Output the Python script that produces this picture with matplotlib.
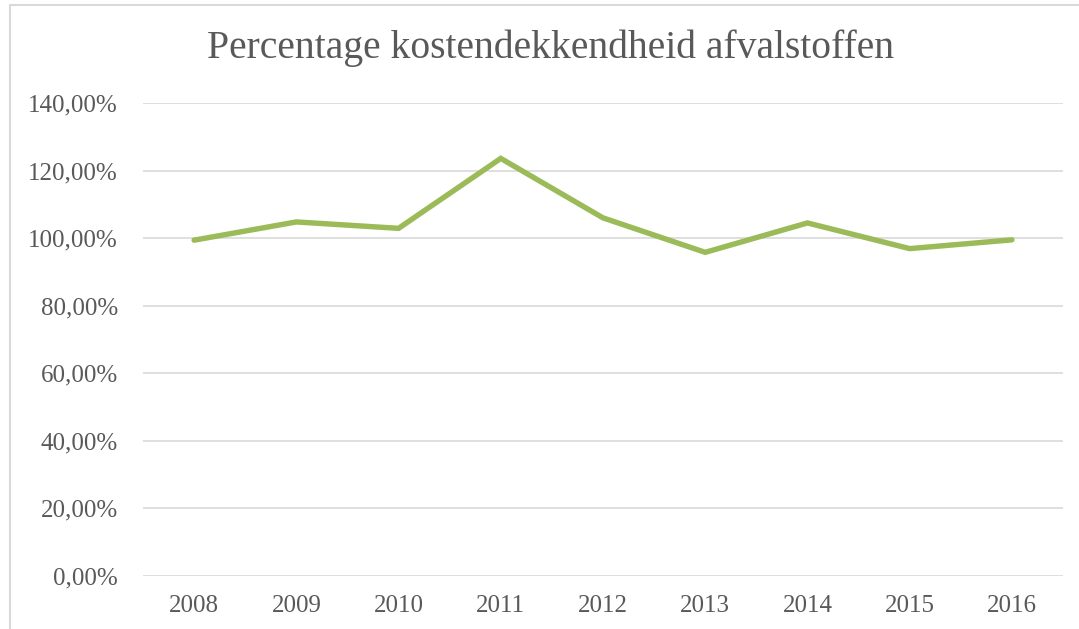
import matplotlib.pyplot as plt
from matplotlib.patches import Rectangle
from matplotlib.ticker import FuncFormatter

jaren = ["2008", "2009", "2010", "2011", "2012", "2013", "2014", "2015", "2016"]
kostendekking = [0.994, 1.048, 1.029, 1.236, 1.060, 0.958, 1.045, 0.969, 0.995]
y_ticks = [0.0, 0.2, 0.4, 0.6, 0.8, 1.0, 1.2, 1.4]

tekst_kleur = "#595959"
plt.rcParams['font.family'] = ['Liberation Serif', 'DejaVu Serif']

fig = plt.figure(figsize=(10.79, 6.29), dpi=100)
# kader rond de grafiek
fig.patches.append(Rectangle((10/1079, -0.05), 1.2, 1 - 5/629 + 0.05,
                             transform=fig.transFigure, fill=False,
                             edgecolor="#D9D9D9", linewidth=1.5))

ax = fig.add_axes([143/1079, 1 - 576/629, (1063 - 143)/1079, (576 - 103)/629])
x = range(len(jaren))
ax.plot(x, kostendekking, color="#9BBB59", linewidth=3.9,
        solid_capstyle="round", solid_joinstyle="miter", zorder=3)

ax.set_xlim(-0.5, len(jaren) - 0.5)
ax.set_ylim(0, 1.4)
ax.set_yticks(y_ticks)
ax.yaxis.set_major_formatter(FuncFormatter(
    lambda v, p: f"{v*100:.2f}%".replace(".", ",")))
ax.set_xticks(list(x))
ax.set_xticklabels(jaren)
ax.grid(axis="y", color="#D9D9D9", linewidth=1.2)
ax.set_axisbelow(True)
for s in ax.spines.values():
    s.set_visible(False)
ax.tick_params(length=0, labelsize=18, colors=tekst_kleur)
ax.tick_params(axis="y", pad=18)
ax.tick_params(axis="x", pad=14)

fig.text(551/1079, 1 - 48/629, "Percentage kostendekkendheid afvalstoffen",
         ha="center", va="center", fontsize=28.5, color=tekst_kleur)

fig.savefig("out.png", dpi=100)
